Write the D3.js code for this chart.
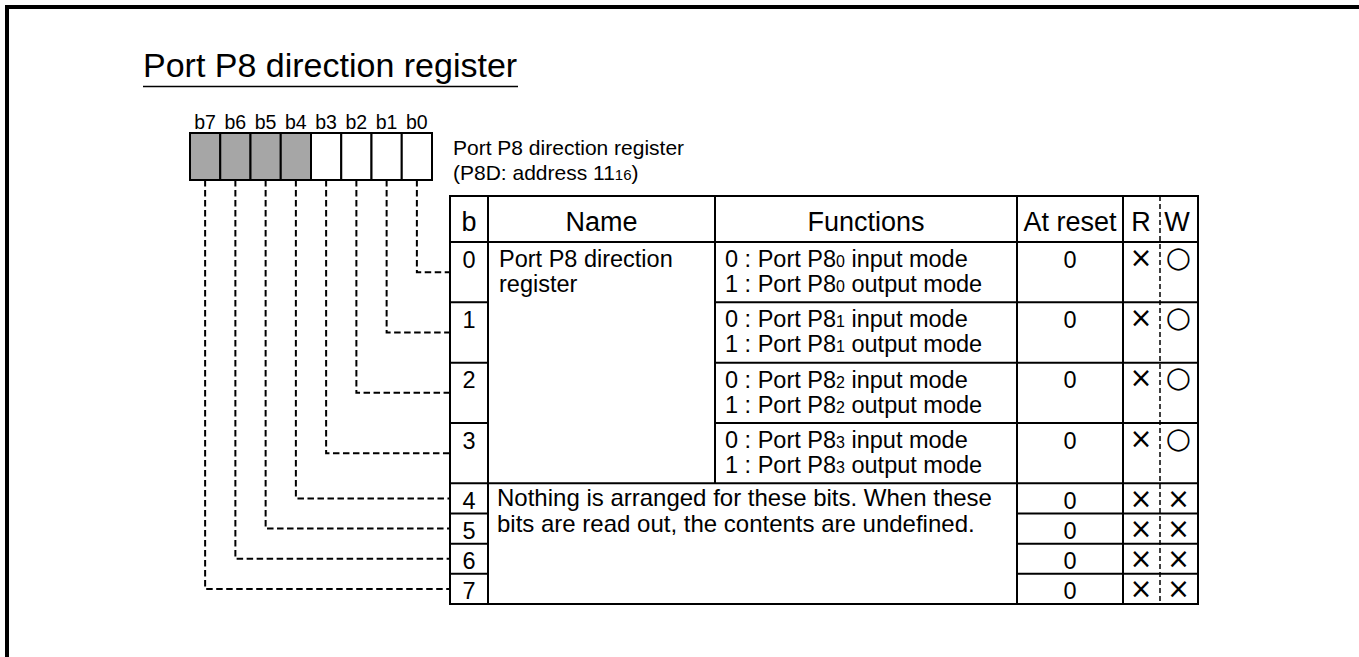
<!DOCTYPE html>
<html>
<head>
<meta charset="utf-8">
<script src="https://cdn.jsdelivr.net/npm/d3@7"></script>
<style>
  html, body { margin: 0; padding: 0; background: #fff; }
  svg text { font-family: "Liberation Sans", Arial, Helvetica, sans-serif; fill: #000; }
</style>
</head>
<body>
<svg id="chart" width="1359" height="657"></svg>
<script>
// ---------- data ----------
const title = "Port P8 direction register";
const registerName = "Port P8 direction register";
const registerAddress = ["(P8D: address 11", "16", ")"];
const bitLabels = ["b7", "b6", "b5", "b4", "b3", "b2", "b1", "b0"];
const bitOrder = [7, 6, 5, 4, 3, 2, 1, 0];
const bitShaded = [true, true, true, true, false, false, false, false]; // b7..b0
const headers = ["b", "Name", "Functions", "At reset", "R", "W"];
const rowBits = [0, 1, 2, 3, 4, 5, 6, 7];
const rowSpans = [2, 2, 2, 2, 1, 1, 1, 1];
const nameLines = ["Port P8 direction", "register"];
const functionPorts = ["0", "1", "2", "3"];
const functionLine1 = ["0 : Port P8", " input mode"];
const functionLine2 = ["1 : Port P8", " output mode"];
const reservedLines = ["Nothing is arranged for these bits. When these", "bits are read out, the contents are undefined."];
const atReset = ["0", "0", "0", "0", "0", "0", "0", "0"];
const readMarks = ["×", "×", "×", "×", "×", "×", "×", "×"];
const writeMarks = ["○", "○", "○", "○", "×", "×", "×", "×"];

// ---------- layout ----------
const svg = d3.select("#chart");
const FONT_BODY = 23.5;

// frame (top and left)
svg.append("line").attr("x1", 5).attr("x2", 1359).attr("y1", 7).attr("y2", 7)
  .attr("stroke", "#000").attr("stroke-width", 4);
svg.append("line").attr("x1", 7).attr("x2", 7).attr("y1", 5).attr("y2", 657)
  .attr("stroke", "#000").attr("stroke-width", 4);

// title
svg.append("text").attr("x", 143).attr("y", 77).attr("font-size", 34).text(title);
svg.append("line").attr("x1", 143).attr("x2", 518).attr("y1", 86.5).attr("y2", 86.5)
  .attr("stroke", "#000").attr("stroke-width", 1.5);

// bit boxes
const xBit = d3.scaleBand().domain(bitOrder).range([190, 432]);
const boxTop = 133, boxBottom = 180;
svg.append("g").selectAll("rect").data(bitOrder).join("rect")
  .attr("x", d => xBit(d)).attr("y", boxTop)
  .attr("width", xBit.bandwidth()).attr("height", boxBottom - boxTop)
  .attr("fill", (d, i) => bitShaded[i] ? "#a6a6a6" : "#fff")
  .attr("stroke", "#000").attr("stroke-width", 2);
svg.append("g").selectAll("text").data(bitOrder).join("text")
  .attr("x", d => xBit(d) + xBit.bandwidth() / 2).attr("y", 129)
  .attr("text-anchor", "middle").attr("font-size", 19.5)
  .text((d, i) => bitLabels[i]);

// register description
svg.append("text").attr("x", 453).attr("y", 155).attr("font-size", 21).text(registerName);
const addr = svg.append("text").attr("x", 453).attr("y", 180).attr("font-size", 21);
addr.append("tspan").text(registerAddress[0]);
addr.append("tspan").attr("font-size", 15).text(registerAddress[1]);
addr.append("tspan").text(registerAddress[2]);

// table geometry
const tableTop = 196, headerBottom = 242, tableBottom = 604;
const totalUnits = d3.sum(rowSpans);
const yRow = d3.scaleLinear().domain([0, totalUnits]).range([headerBottom, tableBottom]);
const cum = rowSpans.map((s, i) => d3.sum(rowSpans.slice(0, i)));
const rowTop = i => yRow(cum[i]);
const rowBot = i => yRow(cum[i] + rowSpans[i]);
const rowMid = i => (rowTop(i) + rowBot(i)) / 2;

const colEdges = d3.scaleOrdinal()
  .domain(["left", "b", "name", "func", "reset", "rw", "right"])
  .range([450, 488, 715, 1017, 1123, 1160, 1198]);
const cx = (a, b) => (colEdges(a) + colEdges(b)) / 2;

const grid = svg.append("g").attr("stroke", "#000").attr("stroke-width", 2).attr("fill", "none");
grid.append("rect").attr("x", colEdges("left")).attr("y", tableTop)
  .attr("width", colEdges("right") - colEdges("left")).attr("height", tableBottom - tableTop);
// vertical lines
[["b", tableTop, tableBottom], ["name", tableTop, rowBot(3)], ["func", tableTop, tableBottom], ["reset", tableTop, tableBottom]]
  .forEach(([c, y1, y2]) => grid.append("line").attr("x1", colEdges(c)).attr("x2", colEdges(c)).attr("y1", y1).attr("y2", y2));
// header bottom
grid.append("line").attr("x1", colEdges("left")).attr("x2", colEdges("right")).attr("y1", headerBottom).attr("y2", headerBottom);
// row separators
rowBits.slice(0, -1).forEach((b, i) => {
  const y = rowBot(i);
  if (i === 3) {
    grid.append("line").attr("x1", colEdges("left")).attr("x2", colEdges("right")).attr("y1", y).attr("y2", y);
  } else {
    grid.append("line").attr("x1", colEdges("left")).attr("x2", colEdges("b")).attr("y1", y).attr("y2", y);
    const xs = i < 3 ? colEdges("name") : colEdges("func");
    grid.append("line").attr("x1", xs).attr("x2", colEdges("right")).attr("y1", y).attr("y2", y);
  }
});
// R / W dashed divider
svg.append("line").attr("x1", colEdges("rw")).attr("x2", colEdges("rw"))
  .attr("y1", tableTop).attr("y2", tableBottom)
  .attr("stroke", "#000").attr("stroke-width", 1.5).attr("stroke-dasharray", "5,3");

// headers
const headerX = [cx("left", "b"), cx("b", "name"), cx("name", "func"), cx("func", "reset"), 1141, 1177];
svg.append("g").selectAll("text").data(headers).join("text")
  .attr("x", (d, i) => headerX[i]).attr("y", 231)
  .attr("text-anchor", "middle").attr("font-size", 27).text(d => d);

// bit numbers
svg.append("g").selectAll("text").data(rowBits).join("text")
  .attr("x", cx("left", "b")).attr("y", (d, i) => rowTop(i) + 25.5)
  .attr("text-anchor", "middle").attr("font-size", FONT_BODY).text(d => d);

// name
svg.append("g").selectAll("text").data(nameLines).join("text")
  .attr("x", 499).attr("y", (d, i) => rowTop(0) + 25 + i * 24.5)
  .attr("font-size", FONT_BODY).text(d => d);

// functions
functionPorts.forEach((p, i) => {
  [functionLine1, functionLine2].forEach((ln, j) => {
    const t = svg.append("text").attr("x", 725).attr("y", rowTop(i) + 25 + j * 25)
      .attr("font-size", FONT_BODY);
    t.append("tspan").text(ln[0]);
    t.append("tspan").attr("font-size", 16).text(p);
    t.append("tspan").text(ln[1]);
  });
});

// reserved description
svg.append("g").selectAll("text").data(reservedLines).join("text")
  .attr("x", 497).attr("y", (d, i) => rowTop(4) + 23 + i * 26)
  .attr("font-size", 24).text(d => d);

// at reset
svg.append("g").selectAll("text").data(atReset).join("text")
  .attr("x", cx("func", "reset")).attr("y", (d, i) => rowTop(i) + 25.5)
  .attr("text-anchor", "middle").attr("font-size", FONT_BODY).text(d => d);

// R / W marks
const markFont = '"DejaVu Sans", sans-serif';
const markSize = d => d === "○" ? 29 : 27.5;
svg.append("g").selectAll("text").data(readMarks).join("text")
  .attr("x", 1141).attr("y", (d, i) => rowTop(i) + 14.5)
  .attr("dominant-baseline", "central").attr("text-anchor", "middle")
  .style("font-family", markFont).attr("font-size", markSize).text(d => d);
svg.append("g").selectAll("text").data(writeMarks).join("text")
  .attr("x", 1178.5).attr("y", (d, i) => rowTop(i) + 14.5)
  .attr("dominant-baseline", "central").attr("text-anchor", "middle")
  .style("font-family", markFont).attr("font-size", markSize).text(d => d);

// dashed connectors from bit boxes to rows
const connectors = svg.append("g").attr("fill", "none").attr("stroke", "#000")
  .attr("stroke-width", 2).attr("stroke-dasharray", "6.5,3.5");
const line = d3.line();
rowBits.forEach((b, i) => {
  const x = xBit(b) + xBit.bandwidth() / 2;
  const y = rowMid(i);
  connectors.append("path").attr("d", line([[x, boxBottom], [x, y], [colEdges("left"), y]]));
});
</script>
</body>
</html>
